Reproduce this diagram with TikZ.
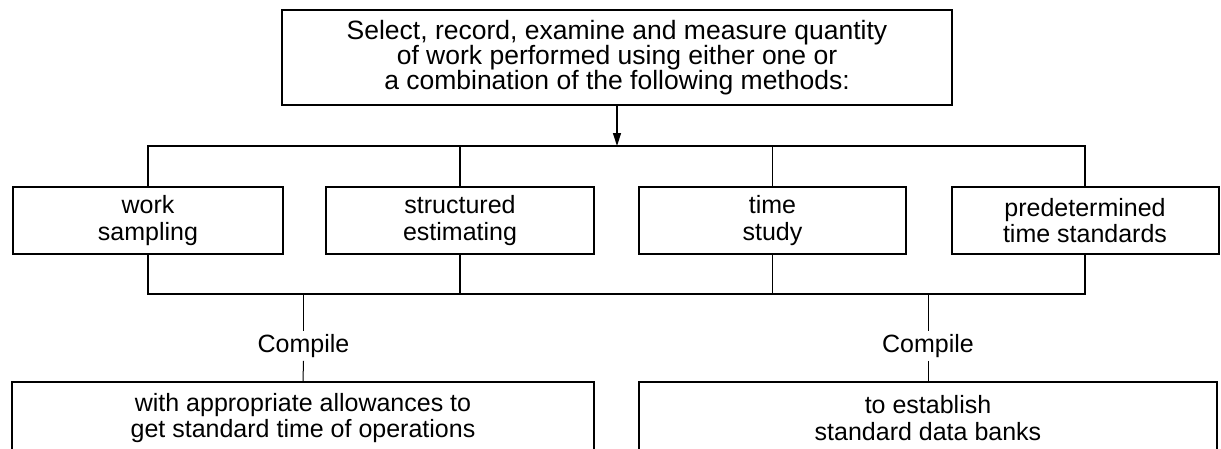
\documentclass[tikz,border=0pt]{standalone}
\usepackage{fontspec}
\setmainfont{Liberation Sans}
\usetikzlibrary{arrows.meta}
\begin{document}
\begin{tikzpicture}[x=1pt,y=-1pt,
  boxnode/.style={draw, line width=2pt, align=center, inner sep=0pt, font=\fontsize{25}{26.5}\selectfont},
  conn/.style={line width=1.4pt},
  thin conn/.style={line width=1pt},
  lbl/.style={font=\fontsize{25}{26}\selectfont, inner sep=3pt}]
\useasboundingbox (0,0) rectangle (1221,448);
\clip (0,0) rectangle (1221,448);
\node[boxnode, minimum width=670, minimum height=95, font=\fontsize{26.5}{25}\selectfont] (top) at (617,57.5)
  {Select, record, examine and measure quantity\\of work performed using either one or\\a combination of the following methods:};
\node[boxnode, minimum width=270, minimum height=67] (b1) at (148,220.5) {work\\sampling};
\node[boxnode, minimum width=268, minimum height=67] (b2) at (460,220.5) {structured\\estimating};
\node[boxnode, minimum width=267, minimum height=67] (b3) at (772.5,220.5) {time\\study};
\node[boxnode, minimum width=267, minimum height=67] (b4) at (1085,220.5) {predetermined\\time standards};
\coordinate (tb) at (617,146);
\coordinate (bb) at (617,294);
\draw[conn, -{Triangle[length=13pt,width=8pt]}] (top.south) -- (tb);
\draw[conn] (b1.north) |- (tb) -| (b4.north);
\draw[conn] (b2.north) -- (b2.north |- tb);
\draw[conn] (b3.north) -- (b3.north |- tb);
\draw[conn] (b1.south) |- (bb) -| (b4.south);
\draw[conn] (b2.south) -- (b2.south |- bb);
\draw[conn] (b3.south) -- (b3.south |- bb);
\node[boxnode, minimum width=582, minimum height=72] (r1) at (303,418)
  {with appropriate allowances to\\get standard time of operations};
\node[boxnode, minimum width=578, minimum height=72] (r2) at (928,418)
  {to establish\\standard data banks};
\node[lbl] (c1) at (303.5,346) {Compile};
\node[lbl] (c2) at (928,346) {Compile};
\draw[thin conn] (c1.north |- bb) -- (c1.north);
\draw[thin conn] (c1.south) -- (r1.north);
\draw[thin conn] (c2.north |- bb) -- (c2.north);
\draw[thin conn] (c2.south) -- (r2.north);
\end{tikzpicture}
\end{document}
